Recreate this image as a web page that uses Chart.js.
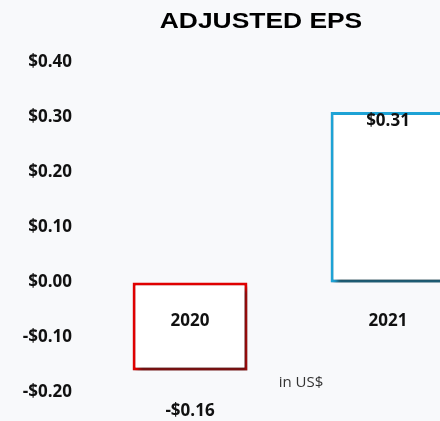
<!DOCTYPE html>
<html>
<head>
<meta charset="utf-8">
<script src="https://cdn.jsdelivr.net/npm/chart.js@4"></script>
<style>
  html, body { margin: 0; padding: 0; background: #f8f9fb; overflow: hidden; }
  #wrap { width: 440px; height: 421px; overflow: hidden; position: relative; }
  #wrap canvas { position: absolute; left: 0; top: 0; }
</style>
</head>
<body>
<div id="wrap"><canvas id="myChart" width="500" height="421"></canvas></div>
<script>
'use strict';
// data
const years = ['2020', '2021'];
const epsValues = [-0.16, 0.31];
const yTicks = [-0.2, -0.1, 0.0, 0.1, 0.2, 0.3, 0.4];
const barBorders = ['#e00000', '#1ea3d6'];
const chartTitle = 'ADJUSTED EPS';
const unitNote = 'in US$';

const labelFont = 'bold 17px "Open Sans", "Liberation Sans", sans-serif';

function money(v) {
  const s = '$' + Math.abs(v).toFixed(2);
  return v < 0 ? '-' + s : s;
}

// soft shadow under the boxes
const shadowPlugin = {
  id: 'boxShadow',
  beforeDatasetsDraw(chart) {
    const ctx = chart.ctx;
    ctx.save();
    ctx.shadowColor = 'rgba(30,30,30,0.6)';
    ctx.shadowOffsetX = 3;
    ctx.shadowOffsetY = 4;
    ctx.shadowBlur = 4;
  },
  afterDatasetsDraw(chart) {
    chart.ctx.restore();
  }
};

const textPlugin = {
  id: 'texts',
  afterDatasetsDraw(chart) {
    const ctx = chart.ctx;
    const y = chart.scales.y;
    const bars = chart.getDatasetMeta(0).data;
    ctx.save();
    ctx.fillStyle = '#111';
    ctx.textAlign = 'center';
    ctx.textBaseline = 'middle';
    ctx.font = labelFont;
    bars.forEach(function(bar, i) {
      // year label sits a bit under the zero line
      ctx.fillText(years[i], bar.x, y.getPixelForValue(-0.07));
      const v = epsValues[i];
      if (v >= 0) {
        ctx.fillText(money(v), bar.x, bar.y + 9);
      } else {
        ctx.fillText(money(v), bar.x, bar.y + 41);
      }
    });
    // unit note
    ctx.font = '15px "Open Sans", sans-serif';
    ctx.fillStyle = '#333';
    ctx.fillText(unitNote, 301, 383);
    // title, slightly stretched
    ctx.font = 'bold 22px "Liberation Sans", Arial, sans-serif';
    ctx.fillStyle = '#000';
    ctx.translate(261, 22);
    ctx.scale(1.2, 1);
    ctx.fillText(chartTitle, 0, 0);
    ctx.restore();
  }
};

var ctx = document.getElementById('myChart').getContext('2d');
var myChart = new Chart(ctx, {
  type: 'bar',
  data: {
    labels: years,
    datasets: [{
      data: epsValues,
      backgroundColor: '#ffffff',
      borderColor: barBorders,
      borderWidth: 3,
      borderSkipped: false,
      barPercentage: 0.58,
      categoryPercentage: 1
    }]
  },
  options: {
    responsive: false,
    animation: false,
    layout: { padding: { top: 35, bottom: 1, left: 0, right: 13 } },
    plugins: {
      legend: { display: false },
      tooltip: { enabled: false },
      title: { display: false }
    },
    scales: {
      x: { display: false },
      y: {
        min: -0.25,
        max: 0.45,
        border: { display: false },
        grid: { display: false, drawTicks: false },
        afterBuildTicks: function(scale) {
          scale.ticks = yTicks.map(v => ({ value: v }));
        },
        afterFit: function(scale) {
          scale.width = 91;
          scale.paddingTop = 0;
          scale.paddingBottom = 0;
        },
        ticks: {
          padding: 19,
          color: '#111',
          font: { family: '"Open Sans", "Liberation Sans", sans-serif', size: 17, weight: 'bold' },
          callback: function(v) { return money(v); }
        }
      }
    }
  },
  plugins: [shadowPlugin, textPlugin]
});
</script>
</body>
</html>
